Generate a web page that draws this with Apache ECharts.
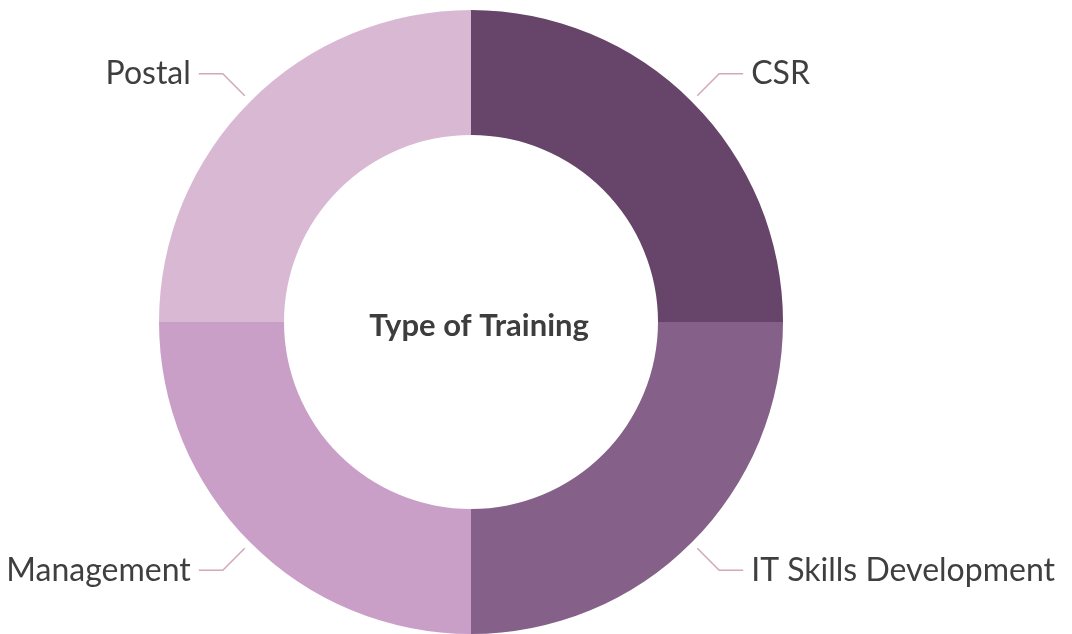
<!DOCTYPE html>
<html>
<head>
<meta charset="utf-8">
<script src="https://cdn.jsdelivr.net/npm/echarts@6/dist/echarts.min.js"></script>
<style>
html,body{margin:0;padding:0;background:#fff;}
#main{width:1072px;height:634px;}
</style>
</head>
<body>
<div id="main"></div>
<script>
const categories = ['CSR', 'IT Skills Development', 'Management', 'Postal'];
const values = [25, 25, 25, 25];
const colors = ['#674469', '#856089', '#c99fc8', '#d9b8d4'];
const centerTitle = 'Type of Training';

const chart = echarts.init(document.getElementById('main'), null, {renderer: 'canvas'});
const data = categories.map((c, i) => ({name: c, value: values[i], itemStyle: {color: colors[i]}}));
const ghost = categories.map((c, i) => ({name: c, value: values[i]}));

chart.setOption({
  animation: false,
  backgroundColor: '#ffffff',
  title: {
    text: centerTitle,
    left: 474,
    top: 321,
    textAlign: 'center',
    textVerticalAlign: 'middle',
    textStyle: {fontFamily: 'Lato', fontSize: 31, fontWeight: 'bold', color: '#3d3d3d'}
  },
  series: [
    {
      type: 'pie',
      center: [471, 322],
      radius: [187, 312],
      startAngle: 90,
      clockwise: true,
      avoidLabelOverlap: false,
      silent: true,
      label: {show: false},
      labelLine: {show: false},
      data: data
    },
    {
      type: 'pie',
      center: [471, 322],
      radius: [312, 320],
      startAngle: 90,
      clockwise: true,
      avoidLabelOverlap: false,
      silent: true,
      itemStyle: {color: 'rgba(0,0,0,0)'},
      label: {
        show: true,
        position: 'outside',
        fontFamily: 'Lato',
        fontSize: 32,
        color: '#3f3f3f',
        distanceToLabelLine: 8
      },
      labelLine: {
        show: true,
        length: 31,
        length2: 24,
        smooth: false,
        lineStyle: {color: '#d4a8b6', width: 1.5}
      },
      data: ghost
    }
  ]
});
</script>
</body>
</html>
